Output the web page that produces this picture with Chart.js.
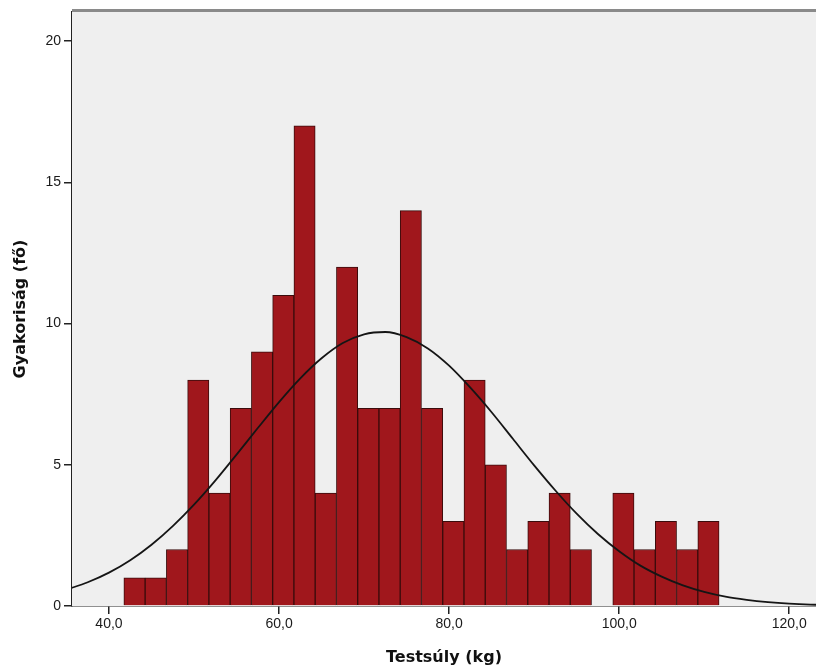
<!DOCTYPE html>
<html lang="hu">
<head>
    <meta charset="UTF-8">
    <title>Testsúly hisztogram</title>
    <script src="https://cdn.jsdelivr.net/npm/chart.js"></script>
    <style>
        html, body { margin: 0; padding: 0; background: #fff; }
        #wrap { width: 816px; height: 671px; }
    </style>
</head>
<body>
    <div id="wrap"><canvas id="histChart" width="816" height="671"></canvas></div>

    <script>
        // bin centres (kg), 2.5 kg wide bins
        const binCenters = [43.0, 45.5, 48.0, 50.5, 53.0, 55.5, 58.0, 60.5, 63.0, 65.5,
                            68.0, 70.5, 73.0, 75.5, 78.0, 80.5, 83.0, 85.5, 88.0, 90.5,
                            93.0, 95.5, 98.0, 100.5, 103.0, 105.5, 108.0, 110.5];
        const counts = [1, 1, 2, 8, 4, 7, 9, 11, 17, 4,
                        12, 7, 7, 14, 7, 3, 8, 5, 2, 3,
                        4, 2, 0, 4, 2, 3, 2, 3];

        // fitted normal curve, sampled every 2.5 kg
        const curveX = [35.0, 37.5, 40.0, 42.5, 45.0, 47.5, 50.0, 52.5, 55.0, 57.5,
                        60.0, 62.5, 65.0, 67.5, 70.0, 72.5, 75.0, 77.5, 80.0, 82.5,
                        85.0, 87.5, 90.0, 92.5, 95.0, 97.5, 100.0, 102.5, 105.0, 107.5,
                        110.0, 112.5, 115.0, 117.5, 120.0, 122.5, 125.0];
        const curveY = [0.58, 0.84, 1.18, 1.62, 2.17, 2.83, 3.59, 4.44, 5.36, 6.30,
                        7.22, 8.06, 8.77, 9.31, 9.62, 9.70, 9.52, 9.12, 8.51, 7.73,
                        6.86, 5.92, 4.98, 4.09, 3.27, 2.55, 1.94, 1.43, 1.04, 0.73,
                        0.50, 0.33, 0.22, 0.14, 0.085, 0.05, 0.03];

        const xTicks = [40, 60, 80, 100, 120];
        const yTicks = [0, 5, 10, 15, 20];

        const tickFont = { family: "'Liberation Sans', Arial, sans-serif", size: 14 };
        const titleFont = { family: "'DejaVu Sans', Verdana, sans-serif", size: 16, weight: "bold" };

        // grey plot background plus the heavy top frame line
        const plotFrame = {
            id: "plotFrame",
            beforeDatasetsDraw(chart) {
                const { ctx, chartArea: a } = chart;
                ctx.save();
                ctx.fillStyle = "#efefef";
                ctx.fillRect(a.left, a.top, a.right - a.left, a.bottom - a.top);
                ctx.restore();
            },
            afterDraw(chart) {
                const { ctx, chartArea: a } = chart;
                ctx.save();
                ctx.fillStyle = "#8a8a8a";
                ctx.fillRect(a.left, a.top - 3, a.right - a.left, 3);
                ctx.restore();
            }
        };

        new Chart(document.getElementById("histChart"), {
            type: "bar",
            data: {
                datasets: [
                    {
                        type: "line",
                        data: curveX.map((x, i) => ({ x, y: curveY[i] })),
                        borderColor: "#151515",
                        borderWidth: 1.8,
                        pointRadius: 0,
                        cubicInterpolationMode: "monotone",
                        fill: false,
                        order: 0
                    },
                    {
                        data: binCenters.map((x, i) => ({ x, y: counts[i] })),
                        backgroundColor: "#a0171c",
                        borderColor: "#3a0c0c",
                        borderWidth: 1,
                        barPercentage: 1,
                        categoryPercentage: 1,
                        order: 1
                    }
                ]
            },
            options: {
                responsive: false,
                animation: false,
                layout: { padding: { top: 12, right: 0, left: 0, bottom: 0 } },
                plugins: { legend: { display: false }, tooltip: { enabled: false } },
                scales: {
                    x: {
                        type: "linear",
                        offset: false,
                        min: 35.65,
                        max: 123.15,
                        afterFit: s => { s.height = 65; },
                        afterBuildTicks: s => { s.ticks = xTicks.map(v => ({ value: v })); },
                        grid: { offset: false, drawOnChartArea: false, drawTicks: true, tickLength: 8, color: "#222", lineWidth: 1.5 },
                        border: { display: true, color: "#222", width: 1.5 },
                        ticks: {
                            font: tickFont,
                            color: "#1a1a1a",
                            padding: 2,
                            maxRotation: 0,
                            callback: v => v.toFixed(1).replace(".", ",")
                        },
                        title: { display: true, text: "Testsúly (kg)", font: titleFont, color: "#111", padding: { top: 0, bottom: 4 } }
                    },
                    y: {
                        min: 0,
                        max: 21.03,
                        afterFit: s => { s.width = 72; },
                        afterBuildTicks: s => { s.ticks = yTicks.map(v => ({ value: v })); },
                        grid: { offset: false, drawOnChartArea: false, drawTicks: true, tickLength: 8, color: "#222", lineWidth: 1.5 },
                        border: { display: true, color: "#222", width: 1.5 },
                        ticks: { font: tickFont, color: "#1a1a1a", padding: 3, callback: v => String(v) },
                        title: { display: true, text: "Gyakoriság (fő)", font: titleFont, color: "#111", padding: { top: 11, bottom: 0 } }
                    }
                }
            },
            plugins: [plotFrame]
        });
    </script>
</body>
</html>
